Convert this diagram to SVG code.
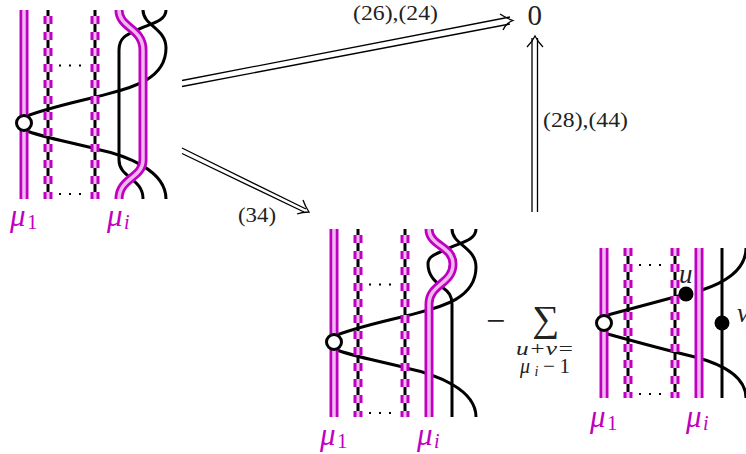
<svg xmlns="http://www.w3.org/2000/svg" width="746" height="454" viewBox="0 0 746 454" font-family="'Liberation Serif', serif">
<style>
text{font-family:'Liberation Serif',serif;fill:#222}
.bk{fill:none;stroke:#000;stroke-width:3}
.bl{fill:none;stroke:#000;stroke-width:3}
.mo{fill:none;stroke:#c000c0;stroke-width:9}
.mi{fill:none;stroke:#f0b8f0;stroke-width:3.500}
.so{fill:none;stroke:#c000c0;stroke-width:9;stroke-dasharray:8 8}
.si{fill:none;stroke:#f0b8f0;stroke-width:3;stroke-dasharray:8 8}
.ar{fill:none;stroke:#000;stroke-width:1.300}
.circ{fill:#fff;stroke:#000;stroke-width:3}
text.ml{fill:#c000c0;font-style:italic;font-size:31px}
text.ms{fill:#c000c0;font-size:21px}
text.sub{fill:#c000c0;font-style:italic;font-size:20px}
.dots{stroke:#000;stroke-width:2;stroke-dasharray:2 8;fill:none}
.lbl{font-size:22px}
</style>
<g id="connectors">
<path class="ar" d="M182 80.500L510 17M182 86.500L510 24"/>
<path class="ar" d="M500 14Q506 18 513 20.500Q506 23 503 30"/>
<path class="ar" d="M182 148L306 209M182 153.500L304 212"/>
<path class="ar" d="M303 200Q305 206 309 212Q302 212 297 214"/>
<path class="ar" d="M532 212V38M537.500 212V38"/>
<path class="ar" d="M527 47Q532 42 535 36Q538 42 543 47"/>
</g>
<g id="node-a">
<path class="bk" d="M166 10C166 22 148 24 137 30C126 35 119 38 119 50V160C119 178 143 178 143 199"/>
<path class="bk" d="M143 10C143 26 166 28 166 48C166 84 120 90 96 97C70 103 45 109 24 117"/>
<path class="bk" d="M24 130C45 138 70 142 96 149C125 155 166 170 166 199"/>
<path class="bl" d="M48 10V199M95 10V199"/>
<path class="so" d="M48 16V199M95 16V199"/>
<path class="si" d="M48 16V199M95 16V199"/>
<path class="mo" d="M24 10V199"/>
<path class="mi" d="M24 10V199"/>
<path class="mo" d="M119 10C119 28 143 28 143 50V160C143 178 119 178 119 199"/>
<path class="mi" d="M119 10C119 28 143 28 143 50V160C143 178 119 178 119 199"/>
<path class="dots" d="M59 65.500H84M59 194H84"/>
<circle class="circ" cx="24" cy="123" r="7.500"/>
<text class="ml" x="10" y="226">μ</text><text class="ms" x="27" y="229">1</text>
<text class="ml" x="107" y="226">μ</text><text class="sub" x="124" y="229">i</text>
</g>
<g id="node-b">
<path class="bk" d="M476 229C476 241 458 243 447 249C436 254 428 256 428 264C428 276 436 282 442 287C449 292 452 296 452 304V417"/>
<path class="bk" d="M452 229C452 245 476 247 476 267C476 303 430 309 406 316C380 322 355 328 334 336"/>
<path class="bk" d="M334 349C355 357 380 361 406 368C435 374 476 389 476 417"/>
<path class="bl" d="M358 229V417M405 229V417"/>
<path class="so" d="M358 235V417M405 235V417"/>
<path class="si" d="M358 235V417M405 235V417"/>
<path class="mo" d="M334 229V417"/>
<path class="mi" d="M334 229V417"/>
<path class="mo" d="M429 229C429 246 453 246 453 264C453 284 429 284 429 304V417"/>
<path class="mi" d="M429 229C429 246 453 246 453 264C453 284 429 284 429 304V417"/>
<path class="dots" d="M369 284.500H394M369 413H394"/>
<circle class="circ" cx="334" cy="342" r="7.500"/>
<text class="ml" x="320" y="445">μ</text><text class="ms" x="337" y="448">1</text>
<text class="ml" x="417" y="445">μ</text><text class="sub" x="434" y="448">i</text>
</g>
<g id="node-c">
<path class="bk" d="M746 248C746 272 720 284 702 290M686 294L604 316"/>
<path class="bk" d="M604 333C640 343 670 351 695 357C725 365 746 378 746 398"/>
<path class="bl" d="M628 248V398M675 248V398"/>
<path class="so" d="M628 248V398M675 248V398"/>
<path class="si" d="M628 248V398M675 248V398"/>
<path class="bl" d="M722 248V398"/>
<path class="mo" d="M604 248V398M699 248V398"/>
<path class="mi" d="M604 248V398M699 248V398"/>
<path class="dots" d="M639 265H664M639 394H664"/>
<circle class="circ" cx="604" cy="323" r="7.500"/>
<circle cx="686" cy="294" r="7.500" fill="#000"/>
<circle cx="722" cy="323" r="7.500" fill="#000"/>
<text x="679" y="283" font-size="27" font-style="italic">u</text>
<text x="737" y="322" font-size="27" font-style="italic">v</text>
<text class="ml" x="590" y="427">μ</text><text class="ms" x="607" y="430">1</text>
<text class="ml" x="686" y="427">μ</text><text class="sub" x="703" y="430">i</text>
</g>
<g id="node-sum">
<text x="486" y="332" font-size="34">−</text>
<text x="532" y="331" font-size="37" textLength="27" lengthAdjust="spacingAndGlyphs">∑</text>
<text x="516" y="355" font-size="19" font-style="italic" textLength="58" lengthAdjust="spacingAndGlyphs">u+v=</text>
<text x="520" y="373" font-size="20" font-style="italic" textLength="50" lengthAdjust="spacing">μ<tspan font-size="14" dy="3">i</tspan><tspan dy="-3" font-style="normal" font-size="21">−1</tspan></text>
</g>
<g id="node-zero"><text x="527.500" y="25" font-size="29">0</text></g>
<text class="lbl" x="353" y="20" textLength="85" lengthAdjust="spacingAndGlyphs">(26),(24)</text>
<text class="lbl" x="238" y="222" textLength="38" lengthAdjust="spacingAndGlyphs">(34)</text>
<text class="lbl" x="543" y="127" textLength="85" lengthAdjust="spacingAndGlyphs">(28),(44)</text>
</svg>
